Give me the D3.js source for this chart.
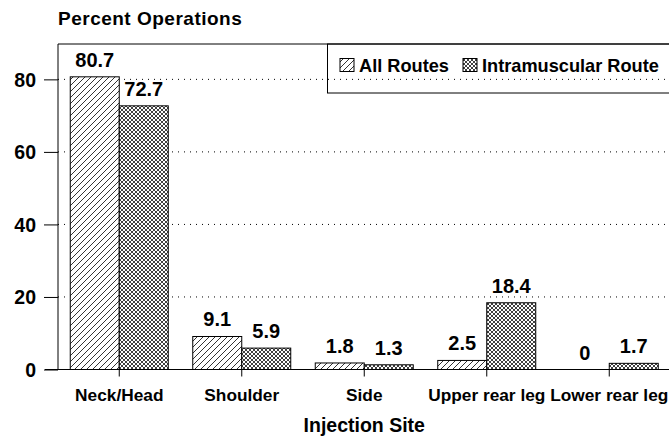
<!DOCTYPE html>
<html><head><meta charset="utf-8">
<script src="https://cdn.jsdelivr.net/npm/d3@7/dist/d3.min.js"></script>
<style>
html,body{margin:0;padding:0;background:#fff;}
svg{display:block;}
text{font-family:"Liberation Sans",Arial,Helvetica,sans-serif;font-weight:bold;fill:#000;}
</style></head>
<body>
<svg id="chart" width="669" height="438"></svg>
<script>
const categories = ["Neck/Head", "Shoulder", "Side", "Upper rear leg", "Lower rear leg"];
const allRoutes = [80.7, 9.1, 1.8, 2.5, 0];
const intramuscular = [72.7, 5.9, 1.3, 18.4, 1.7];
const seriesNames = ["All Routes", "Intramuscular Route"];
const yTicks = [0, 20, 40, 60, 80];
const yTitle = "Percent Operations";
const xTitle = "Injection Site";

(function () {
const svg = d3.select("#chart");
const W = 669, H = 438;
const mL = 58, mR = 670.5, mT = 44, mB = 369.5;

const defs = svg.append("defs");
const hatch = defs.append("pattern").attr("id", "hatch").attr("patternUnits", "userSpaceOnUse")
  .attr("width", 6).attr("height", 6);
hatch.append("rect").attr("width", 6).attr("height", 6).attr("fill", "#fff");
hatch.append("path").attr("d", "M-1,1 l2,-2 M0,6 l6,-6 M5,7 l2,-2").attr("stroke", "#000").attr("stroke-width", 0.8);

const cross = defs.append("pattern").attr("id", "cross").attr("patternUnits", "userSpaceOnUse")
  .attr("width", 4).attr("height", 4);
cross.append("rect").attr("width", 4).attr("height", 4).attr("fill", "#fff");
cross.append("path").attr("d", "M0,0 L4,4 M4,0 L0,4").attr("stroke", "#000").attr("stroke-width", 0.75);

const x = d3.scaleBand().domain(categories).range([mL, mR]).paddingInner(0.2).paddingOuter(0.1);
const xs = d3.scaleBand().domain([0, 1]).range([0, x.bandwidth()]);
const y = d3.scaleLinear().domain([0, 89.75]).range([mB, mT]);

// gridlines
svg.append("g").selectAll("line").data(yTicks.filter(d => d > 0)).join("line")
  .attr("x1", mL).attr("x2", W).attr("y1", d => y(d)).attr("y2", d => y(d))
  .attr("stroke", "#000").attr("stroke-width", 1).attr("stroke-dasharray", "1,5");

// y axis
const yAxis = svg.append("g").attr("transform", `translate(${mL},0)`)
  .call(d3.axisLeft(y).tickValues(yTicks).tickSize(14).tickPadding(8).tickSizeOuter(0));
yAxis.select(".domain").remove();
yAxis.selectAll("line").attr("stroke", "#000");
yAxis.selectAll("text").attr("font-size", 19.5).attr("font-family", null).attr("dy", "0.35em");

// frame lines
svg.append("line").attr("x1", mL).attr("x2", mL).attr("y1", mT).attr("y2", mB).attr("stroke", "#000");
svg.append("line").attr("x1", mL).attr("x2", W).attr("y1", mT).attr("y2", mT).attr("stroke", "#000");

// bars
const data = [];
categories.forEach((c, i) => {
  data.push({cat: c, s: 0, v: allRoutes[i]});
  data.push({cat: c, s: 1, v: intramuscular[i]});
});
svg.append("g").selectAll("rect").data(data).join("rect")
  .attr("x", d => x(d.cat) + xs(d.s))
  .attr("width", xs.bandwidth())
  .attr("y", d => y(d.v))
  .attr("height", d => mB - y(d.v))
  .attr("fill", d => d.s === 0 ? "url(#hatch)" : "url(#cross)")
  .attr("stroke", "#000").attr("stroke-width", d => d.v === 0 ? 2 : 1);

// value labels
svg.append("g").selectAll("text").data(data).join("text")
  .attr("x", d => x(d.cat) + xs(d.s) + xs.bandwidth() / 2)
  .attr("y", d => y(d.v) - 10)
  .attr("text-anchor", "middle").attr("font-size", 20)
  .text(d => d3.format("")(d.v));

// x axis baseline
svg.append("line").attr("x1", 45).attr("x2", W).attr("y1", mB).attr("y2", mB).attr("stroke", "#000");
const xAxis = svg.append("g").attr("transform", `translate(0,${mB})`)
  .call(d3.axisBottom(x).tickSize(7).tickPadding(12).tickSizeOuter(0));
xAxis.select(".domain").remove();
xAxis.selectAll("line").attr("stroke", "#000");
xAxis.selectAll("text").attr("font-size", 17.3).attr("font-family", null);

// titles
svg.append("text").attr("x", mL).attr("y", 25).attr("font-size", 19).attr("letter-spacing", 0.5).text(yTitle);
svg.append("text").attr("x", (mL + mR) / 2).attr("y", 431.5).attr("text-anchor", "middle")
  .attr("font-size", 19.5).text(xTitle);

// legend
const lg = svg.append("g");
lg.append("rect").attr("x", 327.5).attr("y", mT).attr("width", mR - 327.5).attr("height", 49)
  .attr("fill", "none").attr("stroke", "#000");
const legendItems = [{name: seriesNames[0], fill: "url(#hatch)", x: 340}, {name: seriesNames[1], fill: "url(#cross)", x: 463}];
legendItems.forEach(it => {
  lg.append("rect").attr("x", it.x).attr("y", 58.5).attr("width", 14).attr("height", 13)
    .attr("fill", it.fill).attr("stroke", "#000");
  lg.append("text").attr("x", it.x + 19).attr("y", 71.5).attr("font-size", 18.2).text(it.name);
});
})();
</script>
</body></html>
